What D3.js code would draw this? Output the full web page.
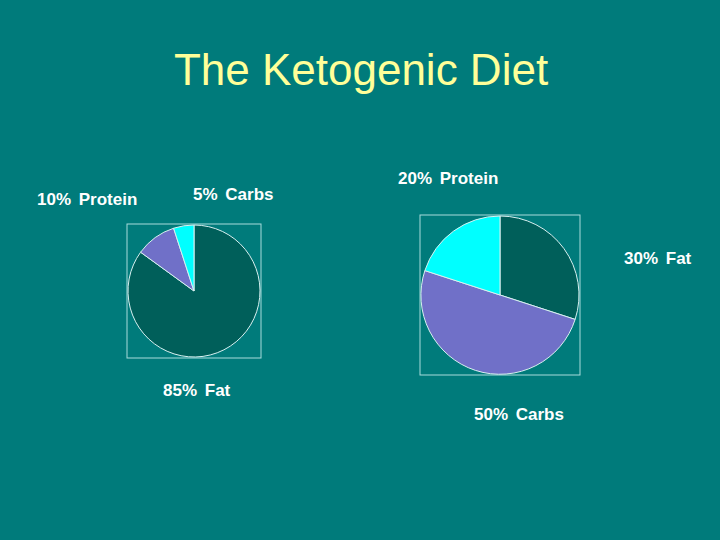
<!DOCTYPE html>
<html>
<head>
<meta charset="utf-8">
<script src="https://cdn.jsdelivr.net/npm/d3@7"></script>
<style>
  html, body { margin: 0; padding: 0; background: #007b7b; }
</style>
</head>
<body>
<svg id="chart"></svg>
<script>
// Keto vs. standard diet
const ketoLabels = ["Fat", "Protein", "Carbs"];
const ketoValues = [85, 10, 5];
const normalLabels = ["Fat", "Carbs", "Protein"];
const normalValues = [30, 50, 20];

const width = 720;
const height = 540;

// slice colours go by position in the series, like the old office chart
const sliceColors = ["#005f5a", "#7070c8", "#00ffff"];

const svg = d3.select("#chart")
  .attr("width", width)
  .attr("height", height)
  .style("font-family", "Arial, 'Liberation Sans', sans-serif");

svg.append("rect").attr("width", width).attr("height", height).attr("fill", "#007b7b");

svg.append("text")
  .attr("x", 361).attr("y", 85)
  .attr("text-anchor", "middle")
  .attr("fill", "#ffff99")
  .style("font-size", "44px")
  .text("The Ketogenic Diet");

const pie = d3.pie().sort(null).value(d => d.value);

function drawPie(cx, cy, r, labels, values, labelPos) {
  const data = labels.map((l, i) => ({ label: l, value: values[i] }));
  const g = svg.append("g").attr("transform", `translate(${cx},${cy})`);

  g.append("rect")
    .attr("x", -r - 1).attr("y", -r - 1)
    .attr("width", 2 * r + 2).attr("height", 2 * r + 2)
    .attr("fill", "none")
    .attr("stroke", "#a8dcdc")
    .attr("stroke-width", 1);

  const arc = d3.arc().innerRadius(0).outerRadius(r);
  g.selectAll("path")
    .data(pie(data))
    .join("path")
    .attr("d", arc)
    .attr("fill", (d, i) => sliceColors[i])
    .attr("stroke", "#d8f0f0")
    .attr("stroke-width", 1);

  data.forEach((d, i) => {
    svg.append("text")
      .attr("x", labelPos[i][0]).attr("y", labelPos[i][1])
      .attr("fill", "#ffffff")
      .style("font-size", "17px")
      .style("font-weight", "bold")
      .style("word-spacing", "3px")
      .text(`${d.value}% ${d.label}`);
  });
}

drawPie(194, 291, 66, ketoLabels, ketoValues, [[163, 396], [37, 205], [193, 200]]);
drawPie(500, 295, 79, normalLabels, normalValues, [[624, 264], [474, 420], [398, 184]]);
</script>
</body>
</html>
